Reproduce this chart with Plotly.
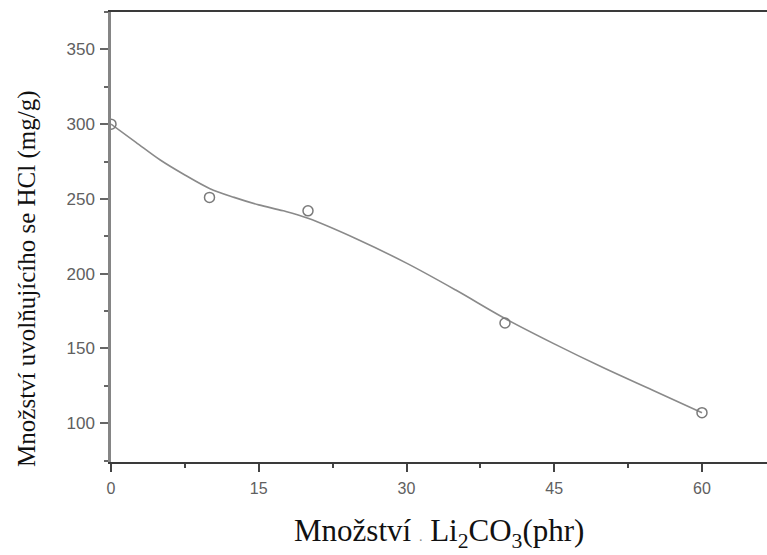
import plotly.graph_objects as go

# Measured points: Li2CO3 loading (phr) vs. HCl released (mg/g)
li2co3_phr = [0, 10, 20, 40, 60]
hcl_mg_g = [300, 251, 242, 167, 107]

# Smoothed trend curve through the measurements
trend_x = [0, 2.5, 5, 7.5, 10, 12.5, 15, 17.5, 20, 25, 30, 35, 40, 45, 50, 55, 60]
trend_y = [300, 288, 276, 266, 257, 251, 246, 242, 237, 223, 207, 189, 170, 153, 137, 122, 107]

x_ticks = [0, 15, 30, 45, 60]

fig = go.Figure()

fig.add_trace(go.Scatter(
    x=trend_x, y=trend_y, mode="lines",
    line=dict(color="#8a8a8a", width=1.6, shape="spline", smoothing=1.0),
    hoverinfo="skip", showlegend=False,
))

fig.add_trace(go.Scatter(
    x=li2co3_phr, y=hcl_mg_g, mode="markers",
    marker=dict(symbol="circle-open", size=10, color="#7a7a7a", line=dict(width=1.5)),
    showlegend=False,
))

fig.update_layout(
    width=767, height=555,
    margin=dict(l=111, r=0, t=12, b=93),
    paper_bgcolor="white", plot_bgcolor="white",
    font=dict(family="Liberation Sans", size=17, color="#606060"),
    xaxis=dict(
        range=[0, 66.6], tickvals=x_ticks,
        showgrid=False, zeroline=False,
        showline=True, linecolor="#3a3a3a", linewidth=2, mirror=True,
        ticks="outside", ticklen=8, tickwidth=2, tickcolor="#444",
        ticklabelstandoff=3,
        minor=dict(ticks="outside", ticklen=4, tickwidth=2, tickcolor="#444", dtick=7.5, tick0=0),
        tickfont=dict(family="Liberation Sans", size=16, color="#606060"),
    ),
    yaxis=dict(
        range=[74, 375], tick0=0, dtick=50,
        showgrid=False, zeroline=False,
        showline=True, linecolor="#858585", linewidth=2.5,
        ticks="outside", ticklen=8, tickwidth=2, tickcolor="#666",
        ticklabelstandoff=2,
        minor=dict(ticks="outside", ticklen=4, tickwidth=2, tickcolor="#666", dtick=25, tick0=0),
        tickfont=dict(family="Liberation Sans", size=17, color="#606060"),
    ),
    annotations=[
        dict(
            text="Množství uvolňujícího se HCl (mg/g)",
            xref="paper", yref="paper", x=-0.128, y=0.407,
            xanchor="center", yanchor="middle", textangle=-90, showarrow=False,
            font=dict(family="Liberation Serif", size=25, color="#111"),
        ),
        dict(
            text=("Množství <span style='font-size:14px;color:#888'>.</span> "
                  "Li<sub>2</sub>CO<sub>3</sub>(phr)"),
            xref="paper", yref="paper", x=0.5, y=-0.158,
            xanchor="center", yanchor="middle", showarrow=False,
            font=dict(family="Liberation Serif", size=31, color="#111"),
        ),
    ],
)

fig.write_html("out.html")
